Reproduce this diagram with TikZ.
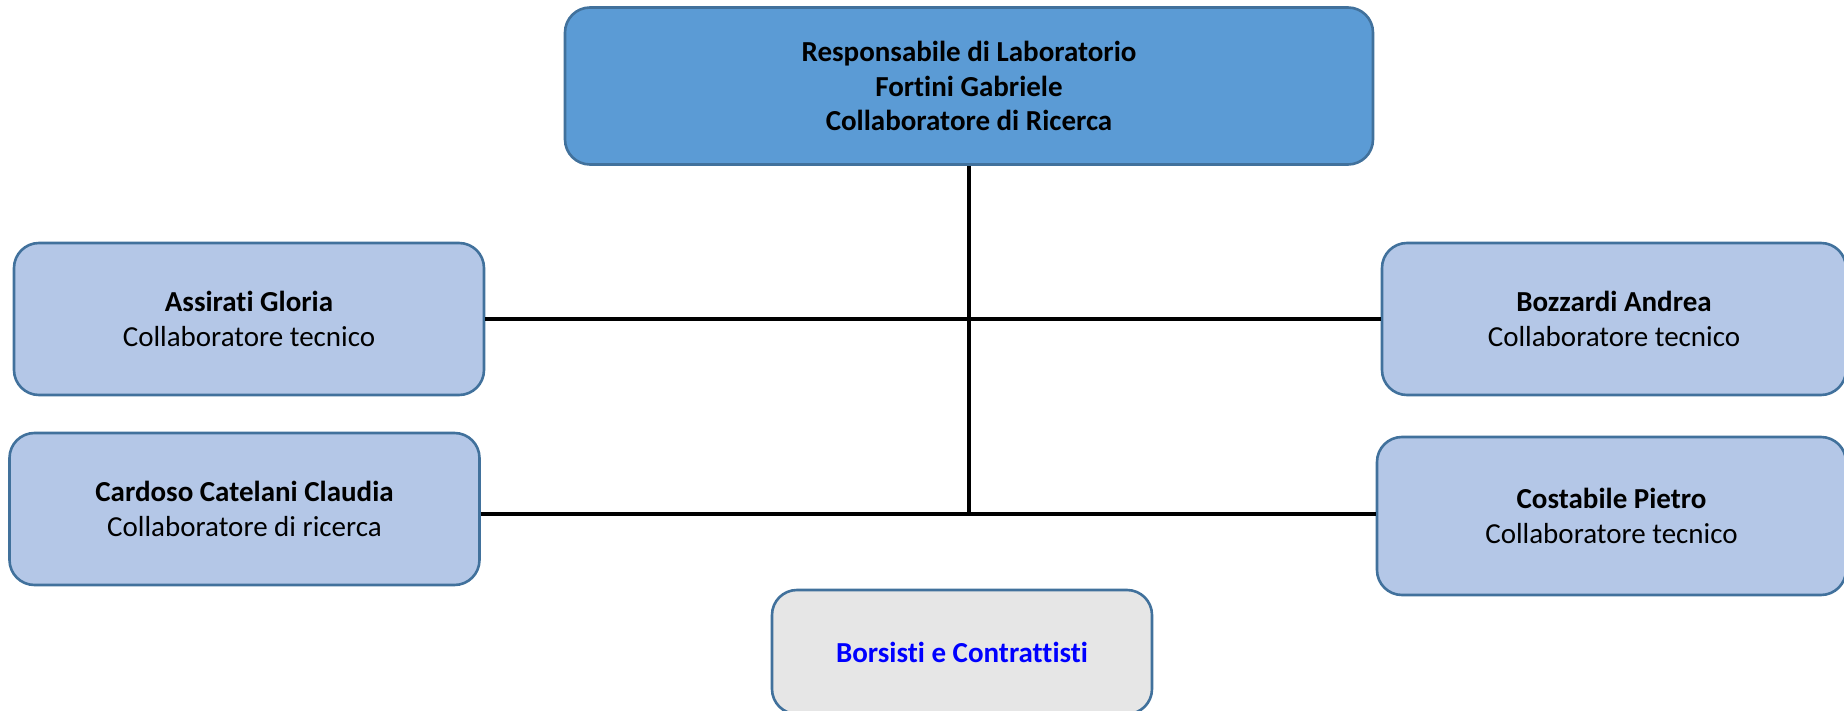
\documentclass[tikz,border=0pt]{standalone}
\usepackage{fontspec}
\setmainfont{Carlito}[Ligatures=NoCommon]
\usepackage{tikz}
\usetikzlibrary{calc}
\definecolor{headfill}{RGB}{91,155,213}
\definecolor{staffill}{RGB}{180,199,231}
\definecolor{greyfill}{RGB}{230,230,230}
\definecolor{boxline}{RGB}{65,113,156}
\tikzset{every picture/.style={line width=0.75pt}}
\tikzset{
  orgbox/.style={draw=boxline, line width=1.3pt, rounded corners=12.5pt, align=center, inner sep=0pt,
    font=\fontsize{14.5}{17.5}\selectfont},
  headbox/.style={orgbox, fill=headfill, minimum width=404pt, minimum height=78.5pt, font=\fontsize{14.5}{17.25}\selectfont\bfseries},
  staffbox/.style={orgbox, fill=staffill, minimum width=235pt, minimum height=76pt},
  extbox/.style={orgbox, fill=greyfill, minimum width=190pt, minimum height=62pt},
  orgline/.style={line width=1.6pt, black}
}

\begin{document}
\begin{tikzpicture}[x=0.5pt,y=0.5pt,yscale=-1,xscale=1]
\useasboundingbox (0,0) rectangle (1844,711);

%Shape: Rounded Rect [head]
\node [headbox] (resp) at (969,86) {Responsabile di Laboratorio\\Fortini Gabriele\\Collaboratore di Ricerca};
%Shape: Rounded Rect [staff left]
\node [staffbox] (assirati) at (249,319) {\textbf{Assirati Gloria}\\Collaboratore tecnico};
\node [staffbox] (cardoso) at (244.5,509) {\textbf{Cardoso Catelani Claudia}\\Collaboratore di ricerca};
%Shape: Rounded Rect [staff right]
\node [staffbox, minimum width=232pt] (bozzardi) at (1614,319) {\textbf{Bozzardi Andrea}\\Collaboratore tecnico};
\node [staffbox, minimum width=234.5pt, minimum height=79pt] (costabile) at (1611.5,516) {\textbf{Costabile Pietro}\\Collaboratore tecnico};
%Shape: Rounded Rect [bottom]
\node [extbox] (borsisti) at (962,652) {\textcolor{blue}{\textbf{Borsisti e Contrattisti}}};

%Straight Lines
\coordinate (jn) at (969,514);
\draw [orgline] (resp) -- (jn);
\draw [orgline] (assirati) -- (bozzardi);
\draw [orgline] (cardoso.east |- jn) -- (costabile.west |- jn);
\end{tikzpicture}
\end{document}
